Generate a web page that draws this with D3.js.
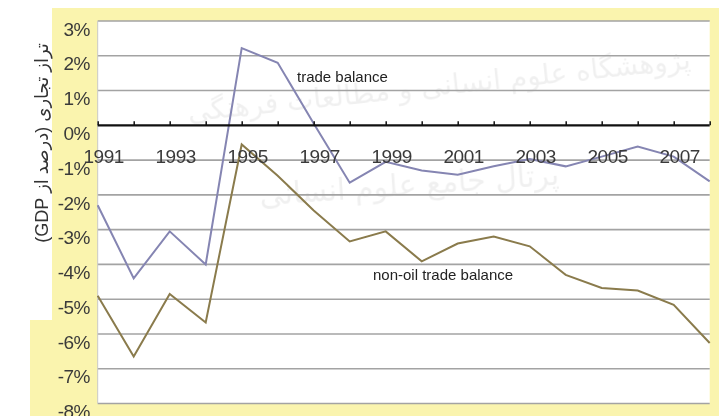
<!DOCTYPE html>
<html><head><meta charset="utf-8">
<script src="https://cdn.jsdelivr.net/npm/d3@7/dist/d3.min.js"></script>
<style>html,body{margin:0;padding:0;background:#fff;}svg{display:block;}</style>
</head><body>
<svg id="chart" width="719" height="416"></svg>
<script>
const years = [1991,1992,1993,1994,1995,1996,1997,1998,1999,2000,2001,2002,2003,2004,2005,2006,2007,2008];
const tradeBalance = [-2.3,-4.4,-3.05,-4.0,2.22,1.8,0.05,-1.65,-1.05,-1.3,-1.42,-1.18,-0.97,-1.18,-0.9,-0.61,-0.9,-1.61];
const nonOilTradeBalance = [-4.9,-6.65,-4.85,-5.67,-0.55,-1.45,-2.45,-3.34,-3.05,-3.91,-3.4,-3.2,-3.48,-4.3,-4.68,-4.75,-5.16,-6.26];
const yTickValues = [3,2,1,0,-1,-2,-3,-4,-5,-6,-7,-8];
const xLabelYears = [1991,1993,1995,1997,1999,2001,2003,2005,2007];
const seriesNames = ["trade balance","non-oil trade balance"];
const yTitle = "تراز تجاری (درصد از GDP)";
const watermarks = ["پژوهشگاه علوم انسانی و مطالعات فرهنگی","پرتال جامع علوم انسانی"];

const svg = d3.select("#chart");
const L = 97.7, R = 709.7, T = 21, B = 403.5;
const x = d3.scaleLinear().domain([1991,2008]).range([L,R]);
const y = d3.scaleLinear().domain([-8,3]).range([B,T]);

const yellow = "#faf4ae";
// yellow frame
svg.append("rect").attr("x",52).attr("y",8).attr("width",667).attr("height",408).attr("fill",yellow);
svg.append("rect").attr("x",30).attr("y",320).attr("width",30).attr("height",96).attr("fill",yellow);
// plot area
svg.append("rect").attr("x",L).attr("y",T).attr("width",R-L).attr("height",B-T).attr("fill","#ffffff");

// watermark (faint)
const wm = svg.append("g").attr("font-family","'DejaVu Sans', sans-serif").attr("fill","#000").attr("opacity",0.06).attr("direction","rtl");
wm.append("text").attr("x",440).attr("y",95).attr("text-anchor","middle").attr("font-size",28).attr("transform","rotate(-6,440,95)").text(watermarks[0]);
wm.append("text").attr("x",410).attr("y",195).attr("text-anchor","middle").attr("font-size",30).attr("transform","rotate(-4,410,195)").text(watermarks[1]);

// gridlines
svg.append("g").selectAll("line").data(yTickValues.filter(v=>v!==0)).join("line")
  .attr("x1",L).attr("x2",R).attr("y1",d=>y(d)).attr("y2",d=>y(d))
  .attr("stroke","#a3a3a3").attr("stroke-width",1.6);
// left border
svg.append("line").attr("x1",L).attr("x2",L).attr("y1",T).attr("y2",B).attr("stroke","#c8c8c8").attr("stroke-width",1);

// y labels
svg.append("g").attr("font-family","'Liberation Sans', Arial, sans-serif").attr("font-size",19).attr("fill","#3a3a3a")
  .selectAll("text").data(yTickValues).join("text")
  .attr("x",90).attr("y",d=>y(d)+8).attr("dy","0.35em").attr("text-anchor","end").attr("letter-spacing",-0.5)
  .text(d=>d+"%");

// lines
const line = d3.line().x((d,i)=>x(years[i])).y(d=>y(d));
svg.append("path").datum(nonOilTradeBalance).attr("d",line).attr("fill","none").attr("stroke","#8a7b4c").attr("stroke-width",2);
svg.append("path").datum(tradeBalance).attr("d",line).attr("fill","none").attr("stroke","#8585b2").attr("stroke-width",2);

// zero axis using d3 axis
const xAxis = d3.axisTop(x).tickValues(years).tickSize(4).tickFormat("");
const ax = svg.append("g").attr("transform",`translate(0,${y(0)})`).call(xAxis);
ax.select(".domain").attr("stroke","#111").attr("stroke-width",2.2).attr("d",`M${L},0H${R}`);
ax.selectAll(".tick line").attr("stroke","#111").attr("stroke-width",1.5);

// x labels
svg.append("g").attr("font-family","'Liberation Sans', Arial, sans-serif").attr("font-size",19).attr("fill","#3a3a3a")
  .selectAll("text").data(xLabelYears).join("text")
  .attr("x",d=>x(d)+6).attr("y",163).attr("text-anchor","middle").attr("letter-spacing",-0.5)
  .text(d=>d);

// series labels
svg.append("text").attr("x",297).attr("y",82).attr("font-family","'Liberation Sans', Arial, sans-serif").attr("font-size",15).attr("fill","#222").text(seriesNames[0]);
svg.append("text").attr("x",373).attr("y",280).attr("font-family","'Liberation Sans', Arial, sans-serif").attr("font-size",15).attr("fill","#222").text(seriesNames[1]);

// y title
svg.append("text").attr("transform","translate(48,143) rotate(-90)").attr("text-anchor","middle")
  .attr("font-family","'Liberation Sans', 'DejaVu Sans', sans-serif").attr("font-size",18).attr("fill","#333")
  .attr("direction","rtl").text(yTitle);
</script>
</body></html>
